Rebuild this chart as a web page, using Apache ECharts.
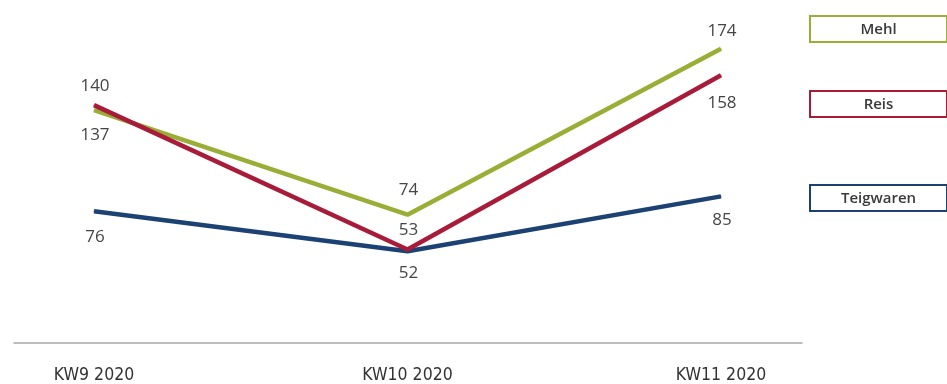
<!DOCTYPE html>
<html>
<head>
<meta charset="utf-8">
<script src="https://cdn.jsdelivr.net/npm/echarts@6/dist/echarts.min.js"></script>
<style>
  html, body { margin: 0; padding: 0; background: #fff; }
  #chart { width: 947px; height: 384px; }
</style>
</head>
<body>
<div id="chart"></div>
<script>
// Weekly index values per product group
const weeks = ['KW9 2020', 'KW10 2020', 'KW11 2020'];
const mehl = [137, 74, 174];
const reis = [140, 53, 158];
const teigwaren = [76, 52, 85];

// Label placement per point: side of the line and gap to it
const mehlPos = ['bottom', 'top', 'top'];
const reisPos = ['top', 'top', 'bottom'];
const teigPos = ['bottom', 'bottom', 'bottom'];
const mehlGap = [16, 16, 9];
const reisGap = [10, 10, 19];
const teigGap = [17, 13, 15];

const colors = { Mehl: '#9aad35', Reis: '#a81c3a', Teigwaren: '#1b4273' };
const labelFont = { fontFamily: 'Open Sans', fontSize: 17, color: '#454545' };

function seriesFor(name, values, positions, gaps, z) {
  return {
    name: name,
    type: 'line',
    xAxisIndex: 0,
    yAxisIndex: 0,
    z: z,
    data: values.map((v, i) => ({
      value: v,
      label: { position: positions[i], distance: gaps[i] }
    })),
    showSymbol: true,
    symbol: 'circle',
    symbolSize: 1,
    lineStyle: { color: colors[name], width: 4.5 },
    itemStyle: { color: colors[name] },
    label: Object.assign({ show: true, offset: [1, 0] }, labelFont),
    emphasis: { disabled: true },
    animation: false
  };
}

function legendFor(name, top) {
  return {
    data: [name],
    left: 805,
    top: top,
    orient: 'vertical',
    icon: 'rect',
    itemWidth: 0,
    itemHeight: 0,
    itemGap: 0,
    padding: 0,
    selectedMode: false,
    formatter: '{box|{name}}',
    textStyle: {
      rich: {
        box: {
          fontFamily: 'Open Sans',
          fontSize: 15,
          fontWeight: 600,
          color: '#3a3a3a',
          width: 137,
          align: 'center',
          lineHeight: 19,
          padding: [6, 0, 5, 0],
          borderColor: colors[name],
          borderWidth: 2
        }
      }
    }
  };
}

const chart = echarts.init(document.getElementById('chart'));
chart.setOption({
  animation: false,
  grid: [
    { left: 94, right: 226, top: 5.5, bottom: 39.5, containLabel: false },
    { left: 14, right: 145, top: 4, bottom: 41, containLabel: false }
  ],
  xAxis: [
    {
      type: 'category',
      gridIndex: 0,
      data: weeks,
      boundaryGap: false,
      axisLine: { show: false },
      axisTick: { show: false },
      axisLabel: {
        margin: 28.5,
        fontFamily: 'DejaVu Sans Condensed',
        fontSize: 17.5,
        fontWeight: 500,
        color: '#333'
      }
    },
    {
      type: 'category',
      gridIndex: 1,
      data: weeks,
      axisLine: { show: true, lineStyle: { color: '#a8a8a8', width: 1.5 } },
      axisTick: { show: false },
      axisLabel: { show: false }
    }
  ],
  yAxis: [
    { type: 'value', gridIndex: 0, min: 0, max: 200, show: false, splitLine: { show: false } },
    { type: 'value', gridIndex: 1, min: 0, max: 200, show: false, splitLine: { show: false } }
  ],
  legend: [
    legendFor('Mehl', 15),
    legendFor('Reis', 90),
    legendFor('Teigwaren', 184)
  ],
  series: [
    seriesFor('Mehl', mehl, mehlPos, mehlGap, 2),
    seriesFor('Teigwaren', teigwaren, teigPos, teigGap, 3),
    seriesFor('Reis', reis, reisPos, reisGap, 4)
  ]
});
</script>
</body>
</html>
